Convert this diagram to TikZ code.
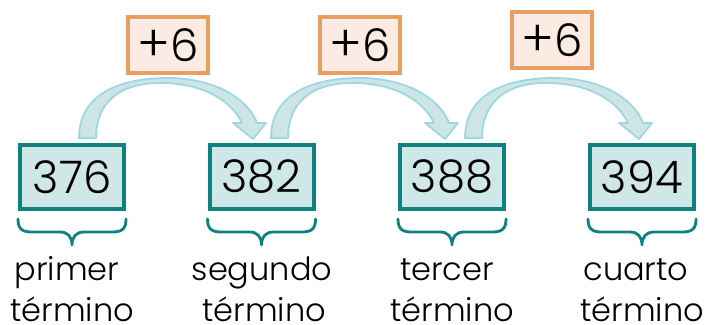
\documentclass[tikz,border=0pt]{standalone}
\usepackage{fontspec}
\setmainfont{Poppins}[UprightFont=* Light]
\definecolor{boxteal}{HTML}{0E8281}
\definecolor{boxfill}{HTML}{CFE7E6}
\definecolor{orborder}{HTML}{E89F64}
\definecolor{orfill}{HTML}{FBEBE2}
\definecolor{arrfill}{HTML}{CDE6E5}
\definecolor{arrline}{HTML}{9DD8E2}
\newcommand{\bigplus}{{\fontsize{50}{50}\selectfont\raisebox{0pt}{+}}}
\begin{document}
\begin{tikzpicture}[x=1pt,y=1pt,
  term/.style={draw=boxteal, fill=boxfill, line width=4pt, minimum width=104pt, minimum height=64pt, inner sep=0pt, font=\fontsize{45}{45}\selectfont},
  incbox/.style={draw=orborder, fill=orfill, line width=4pt, minimum width=80pt, minimum height=56pt, inner sep=0pt, font=\fontsize{45}{45}\selectfont},
  lbl/.style={font=\fontsize{32}{32}\selectfont, anchor=base, inner sep=0pt},
  bracepath/.style={draw=boxteal, line width=2.8pt, line cap=round, line join=round},
  curvarrow/.style={fill=arrfill, draw=arrline, line width=1.8pt, line join=round},
  curvarr/.pic={\path[curvarrow] (0,0) .. controls (0,44) and (41,60) .. (89,60) .. controls (136,60) and (169,39) .. (178,15) -- (187,15) -- (174,-1) -- (154,15) -- (163,15) .. controls (153,36) and (126,55) .. (81,55) .. controls (41,55) and (17,36) .. (17,0) -- cycle;},
  termbrace/.pic={\path[bracepath] (-54,0) .. controls (-54,-10) and (-50,-13) .. (-40,-13) -- (-12,-13) .. controls (-4,-13) and (0,-18) .. (0,-26) .. controls (0,-18) and (4,-13) .. (12,-13) -- (40,-13) .. controls (50,-13) and (54,-10) .. (54,0);}
]
\useasboundingbox (0,0) rectangle (706,324);
% arrows
\pic at (79,186) {curvarr};
\pic at (271,186) {curvarr};
\pic at (465,186) {curvarr};
% increment boxes
\node[incbox] (i1) at (168,279) {\bigplus6};
\node[incbox] (i2) at (360,279) {\bigplus6};
\node[incbox] (i3) at (552,283.5) {\bigplus6};
% term boxes
\node[term] (t1) at (72,147) {376};
\node[term] (t2) at (261.5,147) {382};
\node[term] (t3) at (452,147) {388};
\node[term] (t4) at (642,147) {394};
% braces
\foreach \n in {t1,t2,t3,t4} {\pic at ([yshift=-8pt]\n.south) {termbrace};}
% labels
\node[lbl] (l1a) at (67,44) {primer};
\node[lbl] (l1b) at (72,3) {término};
\node[lbl] (l2a) at (262,44) {segundo};
\node[lbl] (l2b) at (264,3) {término};
\node[lbl] (l3a) at (447,44) {tercer};
\node[lbl] (l3b) at (452,3) {término};
\node[lbl] (l4a) at (636,44) {cuarto};
\node[lbl] (l4b) at (642,3) {término};
\end{tikzpicture}
\end{document}
